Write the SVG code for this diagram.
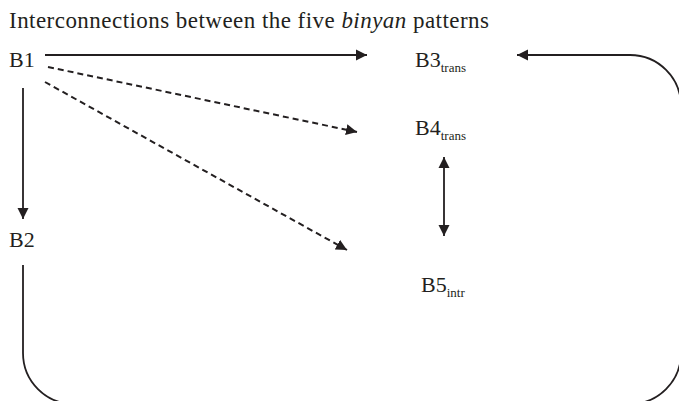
<svg xmlns="http://www.w3.org/2000/svg" width="679" height="401" viewBox="0 0 679 401">
<style>
text{font-family:"Liberation Serif","Times New Roman",serif;fill:#231f20}
.lbl{font-size:22px}
.ttl{font-size:23px}
.sub{font-size:13px}
.ln{fill:none;stroke:#231f20;stroke-width:1.8}
.dash{stroke-width:2;stroke-dasharray:6 4}
</style>
<defs>
<marker id="ah" markerUnits="userSpaceOnUse" markerWidth="12" markerHeight="12" viewBox="0 0 12 12" refX="11" refY="6" orient="auto-start-reverse">
<path d="M0,0.5 L11,6 L0,11.5 Z" fill="#231f20"/>
</marker>
</defs>
<text x="9" y="28" class="ttl" textLength="480" lengthAdjust="spacing">Interconnections between the five <tspan font-style="italic">binyan</tspan> patterns</text>
<g id="connectors">
<path class="ln" d="M45,55 H367" marker-end="url(#ah)"/>
<path class="ln" d="M23,88 V219" marker-end="url(#ah)"/>
<path class="ln dash" d="M48,67 L357,132" marker-end="url(#ah)"/>
<path class="ln dash" d="M45,82 L347,250" marker-end="url(#ah)"/>
<path class="ln" d="M444,157 V236" marker-start="url(#ah)" marker-end="url(#ah)"/>
<path class="ln" d="M23,265 V353 A51,51 0 0 0 74,404 H630 A51,51 0 0 0 681,353 V106 A51,51 0 0 0 630,55 H517" marker-end="url(#ah)"/>
</g>
<g id="B1"><text x="9" y="67" class="lbl">B1</text></g>
<g id="B2"><text x="9" y="247" class="lbl">B2</text></g>
<g id="B3"><text x="415" y="67" class="lbl">B3<tspan class="sub" dy="5">trans</tspan></text></g>
<g id="B4"><text x="415" y="135" class="lbl">B4<tspan class="sub" dy="5">trans</tspan></text></g>
<g id="B5"><text x="421" y="292" class="lbl">B5<tspan class="sub" dy="5">intr</tspan></text></g>
</svg>
